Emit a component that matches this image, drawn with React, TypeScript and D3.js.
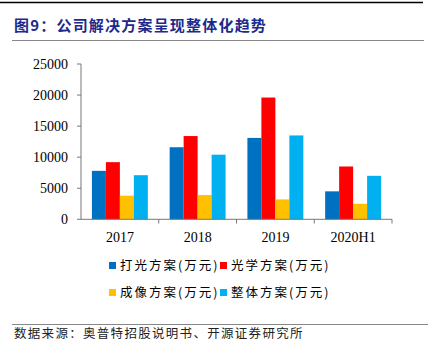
import React from "react";
import * as d3 from "d3";

const categories = ["2017", "2018", "2019", "2020H1"];
const seriesNames = ["打光方案(万元)", "光学方案(万元)", "成像方案(万元)", "整体方案(万元)"];
const lighting = [7800, 11600, 13100, 4500];
const optics = [9200, 13400, 19600, 8500];
const imaging = [3800, 3900, 3200, 2500];
const overall = [7100, 10400, 13500, 7000];
const yTicks = [0, 5000, 10000, 15000, 20000, 25000];
const colors = ["#0070C0", "#FF0000", "#FFC000", "#00B0F0"];

export default function App() {
  const W = 428, H = 346;
  const series = [lighting, optics, imaging, overall];
  const x0 = d3.scaleBand().domain(categories).range([81, 392]).paddingInner(0).paddingOuter(0);
  const x1 = d3.scaleBand().domain(seriesNames).range([0, x0.bandwidth()]).paddingInner(0).paddingOuter(0.78);
  const y = d3.scaleLinear().domain([0, 25000]).range([219.3, 64]);
  const serif = "'Liberation Serif', 'Times New Roman', serif";
  const cjk = "'Noto Sans CJK SC', sans-serif";
  return (
    <div style={{ position: "absolute", left: 0, top: 0 }}>
      <svg width={W} height={H} style={{ display: "block", background: "#fff" }}>
        <line x1={0} x2={423} y1={2.5} y2={2.5} stroke="#000" strokeWidth={1.5} />
        <text x={14} y={31} fontFamily={cjk} fontWeight="bold" fontSize={15} fill="#1B2A8C" letterSpacing={1.2}>
          图9：公司解决方案呈现整体化趋势
        </text>
        <line x1={12} x2={424} y1={40.5} y2={40.5} stroke="#888" strokeWidth={1} />
        {/* y axis */}
        <line x1={81} x2={81} y1={64} y2={219.3} stroke="#777" strokeWidth={1} />
        {yTicks.map((t) => (
          <g key={t}>
            <line x1={77} x2={81} y1={y(t)} y2={y(t)} stroke="#777" />
            <text x={68} y={y(t)} dy="0.35em" textAnchor="end" fontFamily={serif} fontSize={14} fill="#000">
              {t}
            </text>
          </g>
        ))}
        {/* bars */}
        {categories.map((c, ci) => (
          <g key={c} transform={`translate(${x0(c)},0)`}>
            {series.map((s, si) => (
              <rect
                key={si}
                x={x1(seriesNames[si])}
                y={y(s[ci])}
                width={x1.bandwidth()}
                height={y(0) - y(s[ci])}
                fill={colors[si]}
              />
            ))}
          </g>
        ))}
        {/* x axis */}
        <line x1={81} x2={392} y1={219.3} y2={219.3} stroke="#777" strokeWidth={1} />
        {categories.map((c) => (
          <g key={c}>
            <line x1={(x0(c) as number) + x0.bandwidth()} x2={(x0(c) as number) + x0.bandwidth()} y1={219.3} y2={223.5} stroke="#777" />
            <text x={(x0(c) as number) + x0.bandwidth() / 2} y={242} textAnchor="middle" fontFamily={serif} fontSize={14} fill="#000">
              {c}
            </text>
          </g>
        ))}
        {/* legend */}
        {seriesNames.map((n, i) => {
          const lx = i % 2 === 0 ? 109 : 220;
          const ly = i < 2 ? 266 : 293;
          return (
            <g key={n}>
              <rect x={lx} y={ly - 4} width={7} height={7} fill={colors[i]} />
              <text x={lx + 11} y={ly} dy="0.35em" fontFamily={cjk} fontSize={12.5} fill="#000" letterSpacing={2}>
                {n}
              </text>
            </g>
          );
        })}
        <line x1={12} x2={428} y1={324.5} y2={324.5} stroke="#888" strokeWidth={1} />
        <text x={14} y={338} fontFamily={cjk} fontSize={12.5} fill="#222" letterSpacing={1.3}>
          数据来源：奥普特招股说明书、开源证券研究所
        </text>
      </svg>
    </div>
  );
}
